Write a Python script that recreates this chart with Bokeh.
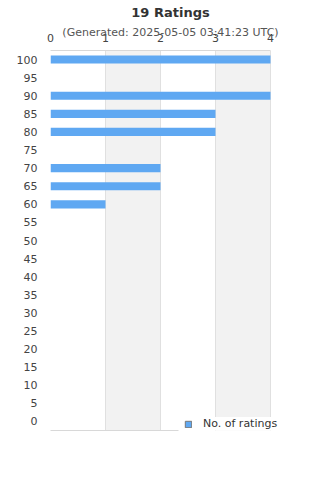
from bokeh.plotting import figure
from bokeh.models import Legend, LegendItem, ColumnDataSource, FixedTicker, LinearAxis
from bokeh.embed import file_html
from bokeh.resources import INLINE

categories = [str(v) for v in range(0, 101, 5)]
counts = [0, 0, 0, 0, 0, 0, 0, 0, 0, 0, 0, 0, 1, 2, 2, 0, 3, 3, 4, 0, 4]
title_text = "19 Ratings"
subtitle_text = "(Generated: 2025-05-05 03:41:23 UTC)"
series_name = "No. of ratings"
x_ticks = [0, 1, 2, 3, 4]

FONT = "DejaVu Sans"
BLUE = "#5fa8f2"
BORDER = "#d8d8d8"

src = ColumnDataSource(data=dict(cat=categories, n=counts))

p = figure(width=320, height=480, y_range=categories, x_range=(0, 4.3636),
           x_axis_location="above", output_backend="svg", toolbar_location=None,
           min_border_left=50, min_border_right=30, min_border_top=50, min_border_bottom=50,
           title=None)

p.hbar(y="cat", right="n", left=0, height=0.45, source=src, color=BLUE, line_color=None)
# legend-only swatch (hidden renderer, shown only in the legend)
dummy = p.hbar(y=[categories[0]], right=[0], left=0, height=0.45,
               fill_color=BLUE, line_color="#777777", visible=False)

xa = p.xaxis[0]
xa.ticker = FixedTicker(ticks=x_ticks)
xa.bounds = (0, 4)
xa.axis_line_color = BORDER
xa.major_tick_line_color = None
xa.minor_tick_line_color = None
xa.major_label_text_font = FONT
xa.major_label_text_font_size = "11px"
xa.major_label_text_color = "#444444"
xa.major_label_standoff = 3
xa.axis_label = subtitle_text
xa.axis_label_text_font = FONT
xa.axis_label_text_font_size = "11px"
xa.axis_label_text_font_style = "normal"
xa.axis_label_text_color = "#555555"
xa.axis_label_standoff = -8

ta = LinearAxis(ticker=FixedTicker(ticks=[]), bounds=(0, 4), axis_line_color=None,
                major_tick_line_color=None, minor_tick_line_color=None,
                axis_label=title_text, axis_label_text_font=FONT,
                axis_label_text_font_size="13px", axis_label_text_font_style="bold",
                axis_label_text_color="#333333", axis_label_standoff=3)
p.add_layout(ta, "above")

ba = LinearAxis(ticker=FixedTicker(ticks=[]), bounds=(0, 2.33), axis_line_color=BORDER,
                major_tick_line_color=None, minor_tick_line_color=None,
                major_label_text_font_size="0px")
p.add_layout(ba, "below")

p.yaxis.axis_line_color = None
p.yaxis.major_tick_line_color = None
p.yaxis.minor_tick_line_color = None
p.yaxis.major_label_text_font = FONT
p.yaxis.major_label_text_font_size = "11px"
p.yaxis.major_label_text_color = "#444444"
p.yaxis.major_label_standoff = 7

p.ygrid.grid_line_color = None
p.xgrid.ticker = FixedTicker(ticks=x_ticks)
p.xgrid.grid_line_color = "#e0e0e0"
p.xgrid.band_fill_color = "#f2f2f2"
p.xgrid.band_fill_alpha = 1.0
p.outline_line_color = None

legend = Legend(items=[LegendItem(label=series_name, renderers=[dummy])],
                location=(134, 0), orientation="vertical")
legend.background_fill_color = "white"
legend.background_fill_alpha = 1.0
legend.border_line_color = None
legend.inactive_fill_alpha = 0.0
legend.label_text_font = FONT
legend.label_text_font_size = "11px"
legend.label_text_color = "#333333"
legend.glyph_width = 8
legend.glyph_height = 8
legend.label_height = 12
legend.label_standoff = 11
legend.padding = 5
legend.margin = 0
p.add_layout(legend)

open("out.html", "w").write(file_html(p, INLINE))
